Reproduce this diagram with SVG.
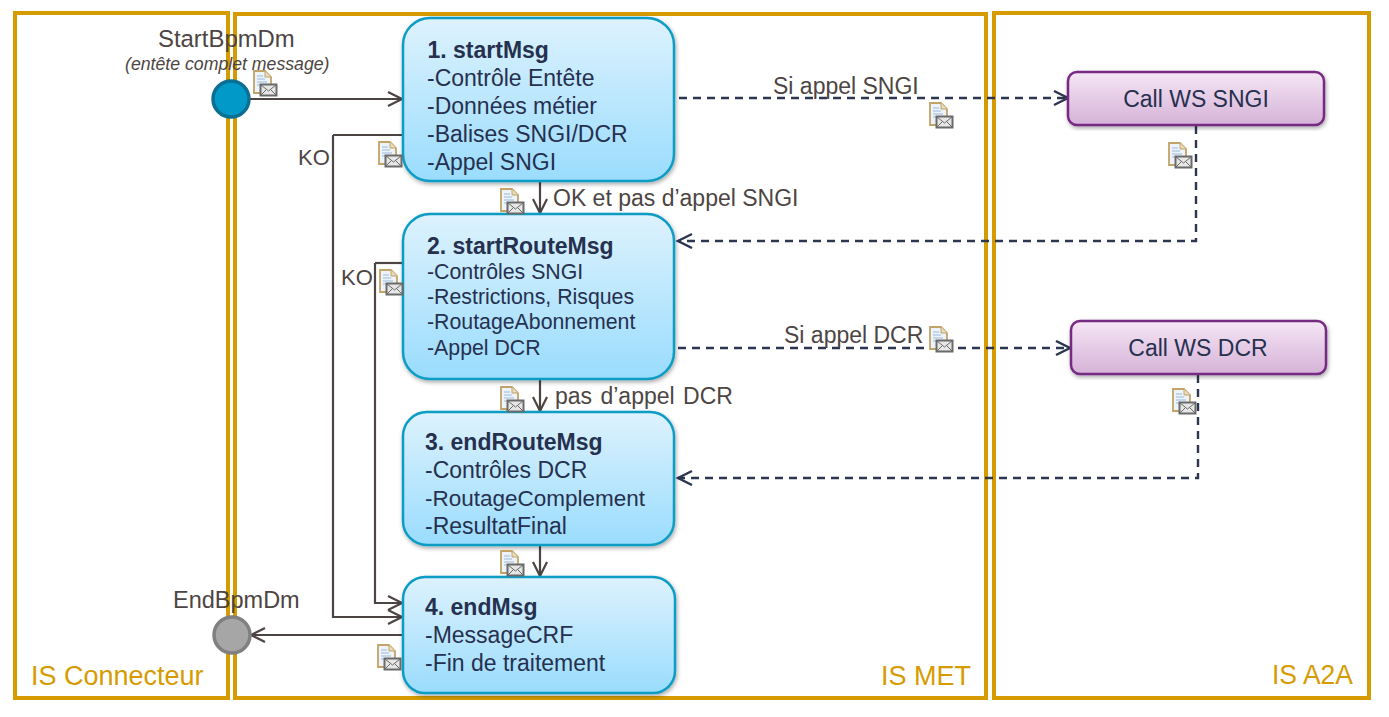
<svg xmlns="http://www.w3.org/2000/svg" xmlns:xlink="http://www.w3.org/1999/xlink" width="1389" height="717" viewBox="0 0 1389 717">
<style>
text{font-family:"Liberation Sans",Arial,sans-serif;}
.panel{fill:none;stroke:#d69b00;stroke-width:4;}
.pl{fill:#d69b00;font-size:27px;}
.box{fill:url(#blue);stroke:#0f9cc4;stroke-width:2.5;filter:url(#sh);}
.ws{fill:url(#purple);stroke:#762a82;stroke-width:2.5;filter:url(#sh);}
.t{fill:#26304f;font-size:23px;}
.s{font-size:21.300px;}
.b{font-weight:bold;}
.lab{fill:#4d4543;font-size:23px;}
.sol{fill:none;stroke:#4d4543;stroke-width:2.200;marker-end:url(#ah);}
.pl2{fill:none;stroke:#4d4543;stroke-width:2.200;}
.dash{fill:none;stroke:#2c3650;stroke-width:2.400;stroke-dasharray:8 6;marker-end:url(#ad);}
</style>
<defs>
<linearGradient id="blue" x1="0" y1="0" x2="0" y2="1"><stop offset="0" stop-color="#ddf2fd"/><stop offset="1" stop-color="#9adcfd"/></linearGradient>
<linearGradient id="purple" x1="0" y1="0" x2="0" y2="1"><stop offset="0" stop-color="#f5e6f5"/><stop offset="1" stop-color="#d6b2d8"/></linearGradient>
<filter id="sh" x="-5%" y="-5%" width="110%" height="115%"><feDropShadow dx="1" dy="2" stdDeviation="2" flood-color="#000" flood-opacity="0.35"/></filter>
<marker id="ah" markerUnits="userSpaceOnUse" markerWidth="18" markerHeight="18" refX="15" refY="8" orient="auto"><path d="M1 1L15 8L1 15" fill="none" stroke="#4d4543" stroke-width="2.200"/></marker>
<marker id="ad" markerUnits="userSpaceOnUse" markerWidth="18" markerHeight="18" refX="15" refY="8" orient="auto"><path d="M1 1L15 8L1 15" fill="none" stroke="#2c3650" stroke-width="2.400"/></marker>
<symbol id="ic" width="25" height="26" viewBox="0 0 25 26" overflow="visible">
<path d="M1 1H12L18 7V23H1Z" fill="#eef3fa" stroke="#c2a468" stroke-width="1.800"/>
<path d="M12 1V7H18" fill="#e8dcc0" stroke="#c2a468" stroke-width="1"/>
<path d="M4 6H10M4 9H12M4 12H14M4 15H12" stroke="#b4cdea" stroke-width="1.400"/>
<rect x="7.500" y="14.500" width="16" height="11" fill="#e6e6e6" stroke="#6a6a6a" stroke-width="2"/>
<path d="M8 15L15.500 21L23 15M8 25L13 20M23 25L18 20" fill="none" stroke="#6a6a6a" stroke-width="1"/>
</symbol>
</defs>
<rect width="1389" height="717" fill="#fff"/>
<g id="panel-connecteur"><rect class="panel" x="15" y="13" width="213" height="685"/><text class="pl" x="31" y="685">IS Connecteur</text></g>
<g id="panel-met"><rect class="panel" x="235" y="14" width="751" height="684"/><text class="pl" x="881" y="685">IS MET</text></g>
<g id="panel-a2a"><rect class="panel" x="994" y="13" width="375" height="685"/><text class="pl" x="1272" y="684" textLength="81" lengthAdjust="spacingAndGlyphs">IS A2A</text></g>
<g id="connectors">
<path class="sol" d="M250 99H402"/>
<path class="pl2" d="M408 135H333"/>
<path class="sol" d="M333 135V617H402"/>
<path class="pl2" d="M403 263H375"/>
<path class="sol" d="M375 263V603H402"/>
<path class="sol" d="M540 182V213"/>
<path class="sol" d="M540 380V411"/>
<path class="sol" d="M540 546V576"/>
<path class="sol" d="M403 635H251"/>
<path class="dash" d="M679 98H1068"/>
<path class="dash" d="M1196 126V241H678"/>
<path class="dash" d="M678 348H1070"/>
<path class="dash" d="M1198 375V478H678"/>
</g>
<g id="node-start"><circle cx="231" cy="99" r="18" fill="#0099c8" stroke="#0a6f92" stroke-width="3.500"/></g>
<g id="node-end"><circle cx="232" cy="635" r="18" fill="#a6a6a6" stroke="#808080" stroke-width="3.500"/></g>
<g id="node-1"><rect class="box" x="403" y="18" width="271" height="163" rx="27"/>
<text class="t b" x="427.500" y="57.500">1. startMsg</text><text class="t" x="427" y="85.500">-Contrôle Entête</text><text class="t" x="427" y="113.500">-Données métier</text><text class="t" x="427" y="141.500">-Balises SNGI/DCR</text><text class="t" x="427" y="169.500">-Appel SNGI</text></g>
<g id="node-2"><rect class="box" x="403" y="214" width="271" height="165" rx="27"/>
<text class="t b" x="427" y="253.500">2. startRouteMsg</text><text class="t s" x="427" y="279">-Contrôles SNGI</text><text class="t s" x="427" y="304">-Restrictions, Risques</text><text class="t s" x="427" y="329">-RoutageAbonnement</text><text class="t s" x="427" y="355">-Appel DCR</text></g>
<g id="node-3"><rect class="box" x="403" y="412" width="271" height="133" rx="24"/>
<text class="t b" x="425" y="449.500">3. endRouteMsg</text><text class="t" x="425" y="477.500">-Contrôles DCR</text><text class="t" x="425" y="505.500" style="font-size:22.500px">-RoutageComplement</text><text class="t" x="425" y="533.500">-ResultatFinal</text></g>
<g id="node-4"><rect class="box" x="403" y="577" width="272" height="116" rx="22"/>
<text class="t b" x="425" y="614.500">4. endMsg</text><text class="t" x="425" y="642.500">-MessageCRF</text><text class="t" x="425" y="670.500">-Fin de traitement</text></g>
<g id="node-sngi"><rect class="ws" x="1068" y="72" width="256" height="53" rx="9"/><text class="t" x="1196" y="106.500" text-anchor="middle">Call WS SNGI</text></g>
<g id="node-dcr"><rect class="ws" x="1071" y="321" width="255" height="53" rx="9"/><text class="t" x="1198" y="355.500" text-anchor="middle">Call WS DCR</text></g>
<g id="labels">
<text class="lab" x="158" y="47" style="font-size:23.900px">StartBpmDm</text>
<text x="125" y="69.500" fill="#4d4543" font-size="17.700" font-style="italic">(entête complet message)</text>
<text class="lab" x="173" y="608" style="font-size:23.500px">EndBpmDm</text>
<text class="lab" x="298" y="165" style="font-size:22px">KO</text>
<text class="lab" x="341" y="285" style="font-size:22px">KO</text>
<text class="lab" x="773" y="94">Si appel SNGI</text>
<text class="lab" x="553" y="205.500">OK et pas d’appel SNGI</text>
<text class="lab" x="784" y="343">Si appel DCR</text>
<text class="lab" x="555" y="404" word-spacing="2">pas d’appel DCR</text>
</g>
<g id="icons">
<use href="#ic" x="253" y="70"/><use href="#ic" x="378" y="141"/><use href="#ic" x="500" y="188"/><use href="#ic" x="929" y="102"/><use href="#ic" x="1168" y="142"/><use href="#ic" x="379" y="269"/><use href="#ic" x="929" y="326"/><use href="#ic" x="500" y="386"/><use href="#ic" x="1172" y="388"/><use href="#ic" x="500" y="550"/><use href="#ic" x="377" y="644"/>
</g>
</svg>
